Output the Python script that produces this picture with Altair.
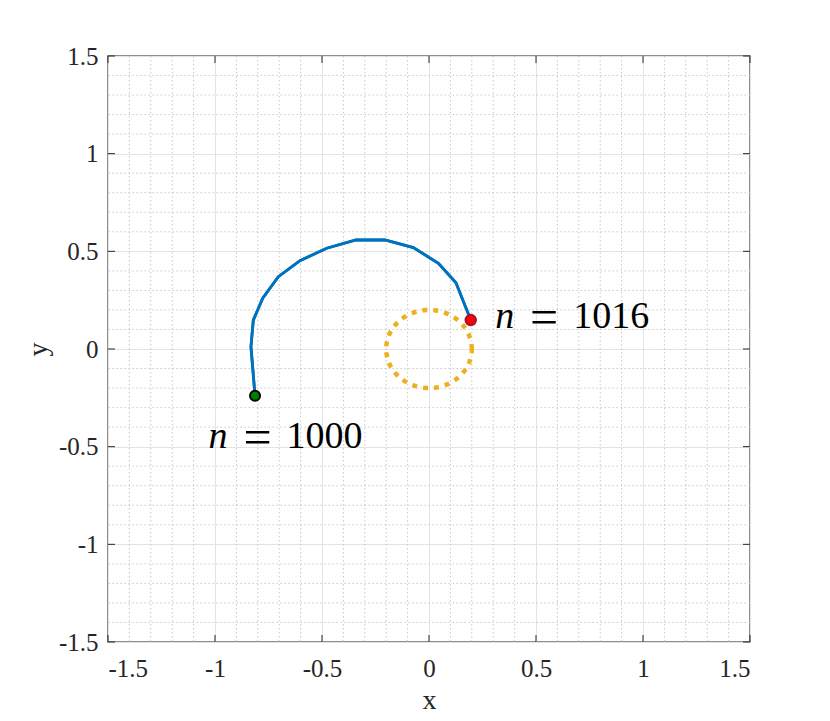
import altair as alt
import numpy as np
import pandas as pd

# ---- data ----
curve_x = [-0.813, -0.832, -0.821, -0.777, -0.704, -0.603, -0.478, -0.341, -0.206, -0.073, 0.044, 0.126, 0.195]
curve_y = [-0.239, 0.012, 0.148, 0.260, 0.370, 0.452, 0.516, 0.558, 0.558, 0.519, 0.439, 0.339, 0.148]

start_pt = {"x": [-0.813], "y": [-0.239]}
end_pt = {"x": [0.195], "y": [0.148]}

circle_radius = 0.2
circle_angles = np.linspace(0, 2 * np.pi, 181)

label_x = [-1.030, 0.309]
label_y = [-0.508, 0.106]
label_num = ["1000", "1016"]

major_ticks = [-1.5, -1.0, -0.5, 0.0, 0.5, 1.0, 1.5]
minor_ticks = [-1.4, -1.3, -1.2, -1.1, -0.9, -0.8, -0.7, -0.6, -0.4, -0.3, -0.2, -0.1,
               0.1, 0.2, 0.3, 0.4, 0.6, 0.7, 0.8, 0.9, 1.1, 1.2, 1.3, 1.4]

# ---- tables ----
curve_df = pd.DataFrame({"x": curve_x, "y": curve_y, "i": range(len(curve_x))})
circle_df = pd.DataFrame({
    "x": circle_radius * np.cos(circle_angles),
    "y": circle_radius * np.sin(circle_angles),
    "i": range(len(circle_angles)),
})
start_df = pd.DataFrame(start_pt)
end_df = pd.DataFrame(end_pt)
label_df = pd.DataFrame({"x": label_x, "y": label_y, "num": label_num})
minor_df = pd.DataFrame({"x": minor_ticks, "y": minor_ticks})
major_df = pd.DataFrame({"x": major_ticks, "y": major_ticks})

W, H = 642, 586
FONT = "'Liberation Serif', 'Times New Roman', 'DejaVu Serif', serif"
TXT = "#262626"

xscale = alt.Scale(domain=[-1.5, 1.5], nice=False, zero=False)
yscale = alt.Scale(domain=[-1.5, 1.5], nice=False, zero=False)

xaxis = alt.Axis(values=major_ticks, title="x", grid=True, ticks=False, domain=False,
                 labelExpr="datum.value + ''", labelPadding=14,
                 titleBaseline="alphabetic", titleY=66)
yaxis = alt.Axis(values=major_ticks, title="y", grid=True, ticks=False, domain=False,
                 labelExpr="datum.value + ''", labelPadding=10, titlePadding=6)

base_line = alt.Chart(curve_df).mark_line(color="#0072BD", strokeWidth=2.8).encode(
    x=alt.X("x:Q", scale=xscale, axis=xaxis),
    y=alt.Y("y:Q", scale=yscale, axis=yaxis),
    order="i:Q",
)

minor_v = alt.Chart(minor_df).mark_rule(color="#c8c8c8", strokeWidth=1, strokeDash=[1.5, 2.5]).encode(
    x=alt.X("x:Q", scale=xscale)
)
minor_h = alt.Chart(minor_df).mark_rule(color="#c8c8c8", strokeWidth=1, strokeDash=[1.5, 2.5]).encode(
    y=alt.Y("y:Q", scale=yscale)
)

circle = alt.Chart(circle_df).mark_line(color="#EDB120", strokeWidth=4.5, strokeDash=[5, 6],
                                        strokeCap="butt").encode(
    x=alt.X("x:Q", scale=xscale), y=alt.Y("y:Q", scale=yscale), order="i:Q"
)

start = alt.Chart(start_df).mark_point(filled=True, shape="circle", size=100, color="#008000",
                                       stroke="black", strokeWidth=2, opacity=1).encode(
    x=alt.X("x:Q", scale=xscale), y=alt.Y("y:Q", scale=yscale)
)
end = alt.Chart(end_df).mark_point(filled=True, shape="circle", size=110, color="#FF0000",
                                   stroke="#A2142F", strokeWidth=2, opacity=1).encode(
    x=alt.X("x:Q", scale=xscale), y=alt.Y("y:Q", scale=yscale)
)

lbl_n = alt.Chart(label_df).mark_text(text="n", font=FONT, fontStyle="italic", fontSize=38,
                                      align="left", baseline="alphabetic", color="black").encode(
    x=alt.X("x:Q", scale=xscale), y=alt.Y("y:Q", scale=yscale)
)
lbl_eq = alt.Chart(label_df).mark_text(text="=", font=FONT, fontSize=50, dx=49, dy=6,
                                       align="center", baseline="alphabetic", color="black").encode(
    x=alt.X("x:Q", scale=xscale), y=alt.Y("y:Q", scale=yscale)
)
lbl_num = alt.Chart(label_df).mark_text(font=FONT, fontSize=38, dx=78,
                                        align="left", baseline="alphabetic", color="black").encode(
    x=alt.X("x:Q", scale=xscale), y=alt.Y("y:Q", scale=yscale), text="num:N"
)

TK = 7
tick_color = "#262626"
tick_bottom = alt.Chart(major_df).mark_rule(color=tick_color, strokeWidth=1).encode(
    x=alt.X("x:Q", scale=xscale), y=alt.value(H), y2=alt.value(H - TK))
tick_top = alt.Chart(major_df).mark_rule(color=tick_color, strokeWidth=1).encode(
    x=alt.X("x:Q", scale=xscale), y=alt.value(0), y2=alt.value(TK))
tick_left = alt.Chart(major_df).mark_rule(color=tick_color, strokeWidth=1).encode(
    y=alt.Y("y:Q", scale=yscale), x=alt.value(0), x2=alt.value(TK))
tick_right = alt.Chart(major_df).mark_rule(color=tick_color, strokeWidth=1).encode(
    y=alt.Y("y:Q", scale=yscale), x=alt.value(W), x2=alt.value(W - TK))

chart = alt.layer(
    base_line, minor_v, minor_h, circle, base_line, start, end,
    lbl_n, lbl_eq, lbl_num, tick_bottom, tick_top, tick_left, tick_right
).properties(
    width=W, height=H,
    autosize=alt.AutoSizeParams(type="none"),
    padding={"left": 100, "top": 48, "right": 72, "bottom": 71},
    background="white",
).configure_view(
    stroke="#6a6a6a", strokeWidth=1.5
).configure_axis(
    labelFont=FONT, labelFontSize=25, labelColor=TXT,
    titleFont=FONT, titleFontSize=28, titleFontWeight="normal", titleColor=TXT,
    gridColor="#e3e3e3", gridWidth=1,
)

chart.save("out.html", embed_options={"renderer": "svg", "actions": False})
